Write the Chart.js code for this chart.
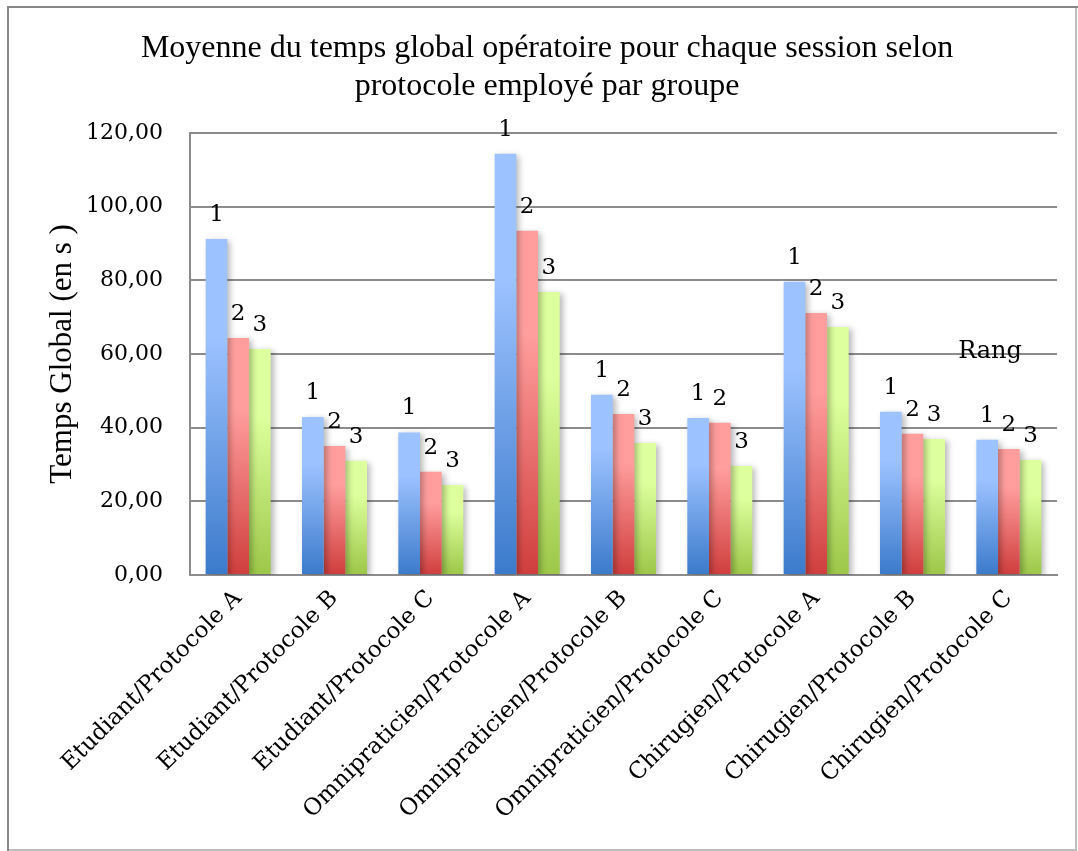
<!DOCTYPE html>
<html>
<head>
<meta charset="utf-8">
<script src="https://cdn.jsdelivr.net/npm/chart.js@4/dist/chart.umd.min.js"></script>
<style>
  html, body { margin: 0; padding: 0; background: #fff; }
  #wrap { width: 1078px; height: 851px; }
</style>
</head>
<body>
<div id="wrap"><canvas id="out" width="1078" height="851"></canvas></div>
<script>
const categories = [
  "Etudiant/Protocole A", "Etudiant/Protocole B", "Etudiant/Protocole C",
  "Omnipraticien/Protocole A", "Omnipraticien/Protocole B", "Omnipraticien/Protocole C",
  "Chirugien/Protocole A", "Chirugien/Protocole B", "Chirugien/Protocole C"
];
const rangLabels = ["1", "2", "3"];
const rang1 = [91.2, 42.9, 38.7, 114.3, 48.9, 42.6, 79.6, 44.3, 36.7];
const rang2 = [64.3, 35.0, 28.0, 93.4, 43.7, 41.3, 71.1, 38.3, 34.2];
const rang3 = [61.3, 31.0, 24.4, 76.8, 35.8, 29.6, 67.3, 36.9, 31.2];
const yTicks = [0, 20, 40, 60, 80, 100, 120];

const serif = "'DejaVu Serif', serif";
const times = "'Liberation Serif', 'Times New Roman', serif";

// gradient per bar: light at top, darker at the base
function barGradient(top, bottom) {
  return function(context) {
    const chart = context.chart;
    const y = chart.scales.y;
    if (!chart.chartArea || !y || context.raw == null) return bottom;
    const yTop = y.getPixelForValue(context.raw);
    const yBase = y.getPixelForValue(0);
    const g = chart.ctx.createLinearGradient(0, yTop, 0, yBase);
    g.addColorStop(0, top);
    g.addColorStop(0.3, top);
    g.addColorStop(1, bottom);
    return g;
  };
}

const frame = {
  id: "frame",
  beforeDraw(chart) {
    const ctx = chart.ctx;
    ctx.save();
    ctx.fillStyle = "#fff";
    ctx.fillRect(0, 0, chart.width, chart.height);
    ctx.lineWidth = 2;
    ctx.strokeStyle = "#bdbdbd";
    ctx.beginPath();
    ctx.moveTo(8, 850); ctx.lineTo(1077, 850);
    ctx.moveTo(1076, 7); ctx.lineTo(1076, 850);
    ctx.stroke();
    ctx.strokeStyle = "#888";
    ctx.beginPath();
    ctx.moveTo(8, 851); ctx.lineTo(8, 7); ctx.lineTo(1078, 7);
    ctx.stroke();
    ctx.restore();
  }
};

const shadow = {
  id: "shadow",
  beforeDatasetsDraw(chart) {
    const ctx = chart.ctx;
    ctx.save();
    ctx.shadowColor = "rgba(0,0,0,0.28)";
    ctx.shadowBlur = 6;
    ctx.shadowOffsetX = 3;
    ctx.shadowOffsetY = 2;
  },
  afterDatasetsDraw(chart) {
    chart.ctx.restore();
  }
};

const rankLabels = {
  id: "rankLabels",
  afterDatasetsDraw(chart) {
    const ctx = chart.ctx;
    ctx.save();
    ctx.font = "23px " + serif;
    ctx.fillStyle = "#000";
    ctx.textAlign = "center";
    ctx.textBaseline = "alphabetic";
    chart.data.datasets.forEach(function(ds, i) {
      chart.getDatasetMeta(i).data.forEach(function(bar) {
        ctx.fillText(ds.label, bar.x, bar.y - 18);
      });
    });
    ctx.font = "24px " + serif;
    ctx.fillText("Rang", 990, 358);
    ctx.restore();
  }
};

new Chart(document.getElementById("out").getContext("2d"), {
  type: "bar",
  data: {
    labels: categories,
    datasets: [
      { label: rangLabels[0], data: rang1, backgroundColor: barGradient("#9cc2ff", "#3b7acb") },
      { label: rangLabels[1], data: rang2, backgroundColor: barGradient("#ff9e9d", "#cf3e3d") },
      { label: rangLabels[2], data: rang3, backgroundColor: barGradient("#ddff9d", "#9cc748") }
    ]
  },
  options: {
    responsive: false,
    animation: false,
    devicePixelRatio: 1,
    categoryPercentage: 0.675,
    barPercentage: 1.0,
    layout: { padding: { left: 37, right: 21, top: 0, bottom: 0 } },
    plugins: {
      legend: { display: false },
      tooltip: { enabled: false },
      title: {
        display: true,
        text: ["Moyenne du temps global opératoire pour chaque session selon", "protocole employé par groupe"],
        color: "#000",
        font: { family: times, size: 32, weight: "normal", lineHeight: 1.2 },
        padding: { top: 29, bottom: 27 }
      }
    },
    scales: {
      y: {
        min: 0,
        max: 120,
        afterBuildTicks(scale) {
          scale.ticks = yTicks.map(function(v) { return { value: v }; });
        },
        afterFit(scale) { scale.width = 153; },
        grid: { color: "#8c8c8c", lineWidth: 2, drawTicks: false },
        border: { color: "#8c8c8c", width: 2 },
        ticks: {
          color: "#000",
          padding: 27,
          font: { family: serif, size: 22 },
          callback: function(v) { return v.toFixed(2).replace(".", ","); }
        },
        title: {
          display: true,
          text: "Temps Global (en s )",
          color: "#000",
          font: { family: times, size: 31, weight: "normal", lineHeight: 1.2 },
          padding: { top: 7, bottom: 0 }
        }
      },
      x: {
        afterFit(scale) { scale.height = 276; },
        grid: { display: false },
        border: { color: "#8c8c8c", width: 2 },
        ticks: {
          color: "#000",
          minRotation: 45,
          maxRotation: 45,
          padding: 2,
          font: { family: serif, size: 23 }
        }
      }
    }
  },
  plugins: [frame, shadow, rankLabels]
});
</script>
</body>
</html>
